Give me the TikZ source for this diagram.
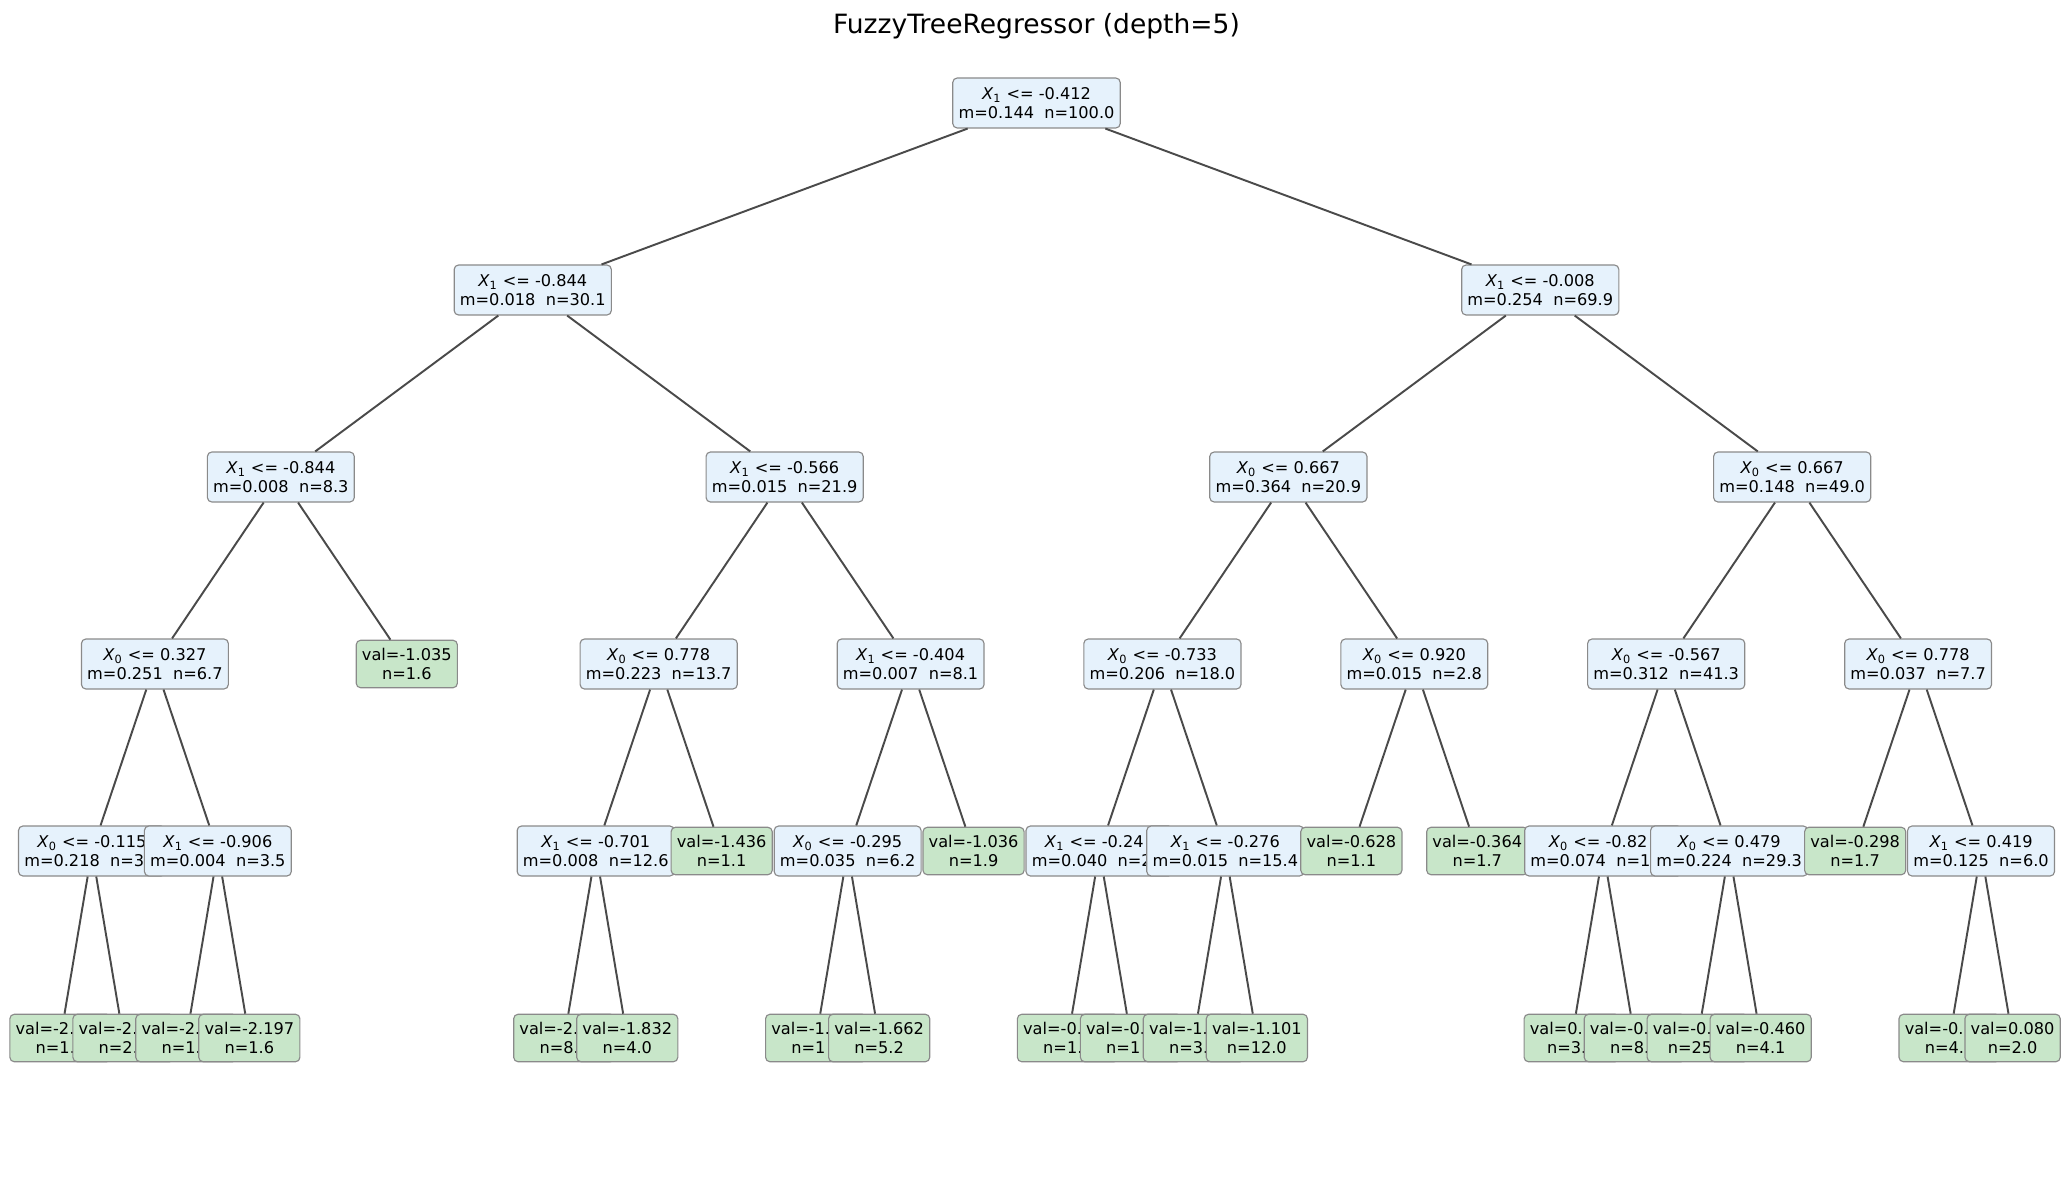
\documentclass[tikz,border=0pt]{standalone}
\usepackage{fontspec}
\setmainfont{DejaVu Sans}
\usepackage{tikz}

\definecolor{splitfill}{HTML}{E6F2FC}
\definecolor{leaffill}{HTML}{C8E6C9}
\definecolor{boxline}{HTML}{8A8A8A}
\definecolor{linkcol}{HTML}{4A4A4A}

\newcommand{\feat}[1]{\textit{X}\textsubscript{#1}}

\begin{document}
\begin{tikzpicture}[node distance=3.74cm,font=\fontsize{9.2}{11}\selectfont]
  \tikzstyle{split}=[rectangle,rounded corners=2.5pt,draw=boxline,line width=0.65pt,
                     fill=splitfill,align=center,inner xsep=0.115cm,inner ysep=0.1cm,
                     minimum height=1.0cm]
  \tikzstyle{leaf}=[split,fill=leaffill,minimum height=0.95cm]
  \tikzstyle{link}=[draw=linkcol,line width=1.1pt]

  \useasboundingbox (0,0) rectangle (41.4,-23.68);

  \node (title) at (20.73,-0.53) {\fontsize{15.1}{18}\selectfont FuzzyTreeRegressor (depth=5)};

  % left half
  \node[split] (n) at (20.73,-2.06)                      {\feat{1} <= -0.412\\m=0.144~~n=100.0};
  \node[split] (nL)     [below of=n, xshift=-10.075cm]   {\feat{1} <= -0.844\\m=0.018~~n=30.1};
  \node[split] (nLL)    [below of=nL, xshift=-5.038cm]   {\feat{1} <= -0.844\\m=0.008~~n=8.3};
  \node[split] (nLLL)   [below of=nLL, xshift=-2.519cm]  {\feat{0} <= 0.327\\m=0.251~~n=6.7};
  \node[split] (nLLLL)  [below of=nLLL, xshift=-1.259cm] {\feat{0} <= -0.115\\m=0.218~~n=3\phantom{.2}};
  \node[leaf]  (nLLLLL) [below of=nLLLL, xshift=-0.63cm] {val=-2.\phantom{000}\\n=1.\phantom{0}};
  \node[leaf]  (nLLLLR) [below of=nLLLL, xshift=0.63cm]  {val=-2.\phantom{000}\\n=2.\phantom{0}};
  \node[split] (nLLLR)  [below of=nLLL, xshift=1.259cm]  {\feat{1} <= -0.906\\m=0.004~~n=3.5};
  \node[leaf]  (nLLLRL) [below of=nLLLR, xshift=-0.63cm] {val=-2.\phantom{000}\\n=1.\phantom{0}};
  \node[leaf]  (nLLLRR) [below of=nLLLR, xshift=0.63cm]  {val=-2.197\\n=1.6};
  \node[leaf]  (nLLR)   [below of=nLL, xshift=2.519cm]   {val=-1.035\\n=1.6};
  \node[split] (nLR)    [below of=nL, xshift=5.038cm]    {\feat{1} <= -0.566\\m=0.015~~n=21.9};
  \node[split] (nLRL)   [below of=nLR, xshift=-2.519cm]  {\feat{0} <= 0.778\\m=0.223~~n=13.7};
  \node[split] (nLRLL)  [below of=nLRL, xshift=-1.259cm] {\feat{1} <= -0.701\\m=0.008~~n=12.6};
  \node[leaf]  (nLRLLL) [below of=nLRLL, xshift=-0.63cm] {val=-2.\phantom{000}\\n=8.\phantom{0}};
  \node[leaf]  (nLRLLR) [below of=nLRLL, xshift=0.63cm]  {val=-1.832\\n=4.0};
  \node[leaf]  (nLRLR)  [below of=nLRL, xshift=1.259cm]  {val=-1.436\\n=1.1};
  \node[split] (nLRR)   [below of=nLR, xshift=2.519cm]   {\feat{1} <= -0.404\\m=0.007~~n=8.1};
  \node[split] (nLRRL)  [below of=nLRR, xshift=-1.259cm] {\feat{0} <= -0.295\\m=0.035~~n=6.2};
  \node[leaf]  (nLRRLL) [below of=nLRRL, xshift=-0.63cm] {val=-1.\phantom{000}\\n=1\phantom{.0}};
  \node[leaf]  (nLRRLR) [below of=nLRRL, xshift=0.63cm]  {val=-1.662\\n=5.2};
  \node[leaf]  (nLRRR)  [below of=nLRR, xshift=1.259cm]  {val=-1.036\\n=1.9};

  % right half
  \node[split] (nR)     [below of=n, xshift=10.075cm]    {\feat{1} <= -0.008\\m=0.254~~n=69.9};
  \node[split] (nRL)    [below of=nR, xshift=-5.038cm]   {\feat{0} <= 0.667\\m=0.364~~n=20.9};
  \node[split] (nRLL)   [below of=nRL, xshift=-2.519cm]  {\feat{0} <= -0.733\\m=0.206~~n=18.0};
  \node[split] (nRLLL)  [below of=nRLL, xshift=-1.259cm] {\feat{1} <= -0.24\phantom{0}\\m=0.040~~n=2\phantom{.6}};
  \node[leaf]  (nRLLLL) [below of=nRLLL, xshift=-0.63cm] {val=-0.\phantom{000}\\n=1.\phantom{0}};
  \node[leaf]  (nRLLLR) [below of=nRLLL, xshift=0.63cm]  {val=-0.\phantom{000}\\n=1\phantom{.0}};
  \node[split] (nRLLR)  [below of=nRLL, xshift=1.259cm]  {\feat{1} <= -0.276\\m=0.015~~n=15.4};
  \node[leaf]  (nRLLRL) [below of=nRLLR, xshift=-0.63cm] {val=-1.\phantom{000}\\n=3.\phantom{0}};
  \node[leaf]  (nRLLRR) [below of=nRLLR, xshift=0.63cm]  {val=-1.101\\n=12.0};
  \node[split] (nRLR)   [below of=nRL, xshift=2.519cm]   {\feat{0} <= 0.920\\m=0.015~~n=2.8};
  \node[leaf]  (nRLRL)  [below of=nRLR, xshift=-1.259cm] {val=-0.628\\n=1.1};
  \node[leaf]  (nRLRR)  [below of=nRLR, xshift=1.259cm]  {val=-0.364\\n=1.7};
  \node[split] (nRR)    [below of=nR, xshift=5.038cm]    {\feat{0} <= 0.667\\m=0.148~~n=49.0};
  \node[split] (nRRL)   [below of=nRR, xshift=-2.519cm]  {\feat{0} <= -0.567\\m=0.312~~n=41.3};
  \node[split] (nRRLL)  [below of=nRRL, xshift=-1.259cm] {\feat{0} <= -0.82\phantom{0}\\m=0.074~~n=1\phantom{2.0}};
  \node[leaf]  (nRRLLL) [below of=nRRLL, xshift=-0.63cm] {val=0.\phantom{000}\\n=3.\phantom{0}};
  \node[leaf]  (nRRLLR) [below of=nRRLL, xshift=0.63cm]  {val=-0.\phantom{000}\\n=8.\phantom{0}};
  \node[split] (nRRLR)  [below of=nRRL, xshift=1.259cm]  {\feat{0} <= 0.479\\m=0.224~~n=29.3};
  \node[leaf]  (nRRLRL) [below of=nRRLR, xshift=-0.63cm] {val=-0.\phantom{000}\\n=25\phantom{.0}};
  \node[leaf]  (nRRLRR) [below of=nRRLR, xshift=0.63cm]  {val=-0.460\\n=4.1};
  \node[split] (nRRR)   [below of=nRR, xshift=2.519cm]   {\feat{0} <= 0.778\\m=0.037~~n=7.7};
  \node[leaf]  (nRRRL)  [below of=nRRR, xshift=-1.259cm] {val=-0.298\\n=1.7};
  \node[split] (nRRRR)  [below of=nRRR, xshift=1.259cm]  {\feat{1} <= 0.419\\m=0.125~~n=6.0};
  \node[leaf]  (nRRRRL) [below of=nRRRR, xshift=-0.63cm] {val=-0.\phantom{000}\\n=4.\phantom{0}};
  \node[leaf]  (nRRRRR) [below of=nRRRR, xshift=0.63cm]  {val=0.080\\n=2.0};

  \path[link] (n) edge (nL) edge (nR)
        (nL) edge (nLL) edge (nLR)
        (nLL) edge (nLLL) edge (nLLR)
        (nLLL) edge (nLLLL) edge (nLLLR)
        (nLLLL) edge (nLLLLL) edge (nLLLLR)
        (nLLLR) edge (nLLLRL) edge (nLLLRR)
        (nLR) edge (nLRL) edge (nLRR)
        (nLRL) edge (nLRLL) edge (nLRLR)
        (nLRLL) edge (nLRLLL) edge (nLRLLR)
        (nLRR) edge (nLRRL) edge (nLRRR)
        (nLRRL) edge (nLRRLL) edge (nLRRLR)
        (nR) edge (nRL) edge (nRR)
        (nRL) edge (nRLL) edge (nRLR)
        (nRLL) edge (nRLLL) edge (nRLLR)
        (nRLLL) edge (nRLLLL) edge (nRLLLR)
        (nRLLR) edge (nRLLRL) edge (nRLLRR)
        (nRLR) edge (nRLRL) edge (nRLRR)
        (nRR) edge (nRRL) edge (nRRR)
        (nRRL) edge (nRRLL) edge (nRRLR)
        (nRRLL) edge (nRRLLL) edge (nRRLLR)
        (nRRLR) edge (nRRLRL) edge (nRRLRR)
        (nRRR) edge (nRRRL) edge (nRRRR)
        (nRRRR) edge (nRRRRL) edge (nRRRRR);
\end{tikzpicture}
\end{document}
